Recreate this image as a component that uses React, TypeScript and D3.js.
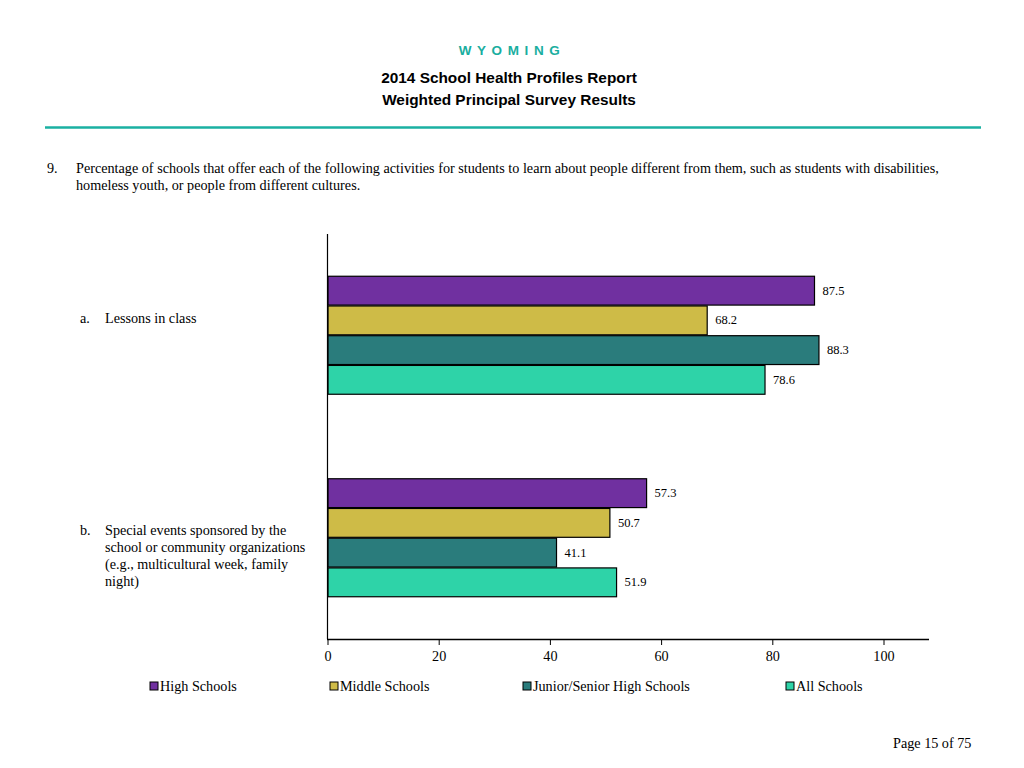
import React from "react";
import * as d3 from "d3";

const categories = ["a", "b"];
const seriesNames = ["High Schools", "Middle Schools", "Junior/Senior High Schools", "All Schools"];
const seriesColors = ["#7030A0", "#CEBB47", "#2A7C7C", "#2ED3A8"];
const valuesA = [87.5, 68.2, 88.3, 78.6];
const valuesB = [57.3, 50.7, 41.1, 51.9];
const seriesValues = [valuesA, valuesB];
const categoryLabels = [["Lessons in class"], ["Special events sponsored by the", "school or community organizations", "(e.g., multicultural week, family", "night)"]];
const xTicks = [0, 20, 40, 60, 80, 100];

export default function App() {
  const W = 1024, H = 768;
  const x = d3.scaleLinear().domain([0, 100]).range([328, 884]);
  const y0 = d3.scaleBand().domain(categories).range([234, 639]);
  const y1 = d3.scaleBand().domain(seriesNames).range([0, 118]).paddingInner(0.03);
  const serif = "'Liberation Serif', 'Times New Roman', serif";
  const sans = "'Liberation Sans', Arial, sans-serif";
  const fs = 14.2;
  const legendX = [150, 330, 523, 786];
  return (
    <svg width={W} height={H} style={{ position: "absolute", left: 0, top: 0, background: "#fff" }}>
      <text x={512} y={55} textAnchor="middle" fontFamily={sans} fontWeight="bold" fontSize={13.5} fill="#1AAE9F" letterSpacing={5.6}>WYOMING</text>
      <text x={509} y={83} textAnchor="middle" fontFamily={sans} fontWeight="bold" fontSize={15.4} fill="#000">2014 School Health Profiles Report</text>
      <text x={509} y={105} textAnchor="middle" fontFamily={sans} fontWeight="bold" fontSize={15.4} fill="#000">Weighted Principal Survey Results</text>
      <line x1={45} x2={981} y1={127.5} y2={127.5} stroke="#1AB0A2" strokeWidth={2.5} />
      <text x={47} y={173} fontFamily={serif} fontSize={fs} fill="#000">9.</text>
      <text x={76} y={173} fontFamily={serif} fontSize={fs} fill="#000">Percentage of schools that offer each of the following activities for students to learn about people different from them, such as students with disabilities,</text>
      <text x={76} y={190} fontFamily={serif} fontSize={fs} fill="#000">homeless youth, or people from different cultures.</text>

      {categories.map((c, ci) => {
        const band = y0(c)!;
        const off = band + (y0.bandwidth() - 118) / 2;
        const lines = categoryLabels[ci];
        const ly = ci === 0 ? 323 : 535;
        return (
          <g key={c}>
            <text x={80} y={ly} fontFamily={serif} fontSize={fs} fill="#000">{c + "."}</text>
            {lines.map((l, li) => (
              <text key={li} x={105} y={ly + li * 17} fontFamily={serif} fontSize={fs} fill="#000">{l}</text>
            ))}
            {seriesNames.map((s, si) => {
              const v = seriesValues[ci][si];
              const by = off + y1(s)!;
              return (
                <g key={s}>
                  <rect x={x(0)} y={by} width={x(v) - x(0)} height={y1.bandwidth()} fill={seriesColors[si]} stroke="#000" strokeWidth={1.2} />
                  <text x={x(v) + 8} y={by + y1.bandwidth() / 2 + 4} fontFamily={serif} fontSize={12.5} fill="#000">{v.toFixed(1)}</text>
                </g>
              );
            })}
          </g>
        );
      })}

      <line x1={327.5} x2={327.5} y1={234} y2={639} stroke="#000" strokeWidth={1.2} />
      <line x1={327} x2={929} y1={639.5} y2={639.5} stroke="#000" strokeWidth={1.5} />
      {xTicks.map((t) => (
        <g key={t}>
          <line x1={x(t)} x2={x(t)} y1={639} y2={645} stroke="#000" strokeWidth={1} />
          <text x={x(t)} y={661} textAnchor="middle" fontFamily={serif} fontSize={fs} fill="#000">{t}</text>
        </g>
      ))}

      {seriesNames.map((s, si) => (
        <g key={s}>
          <rect x={legendX[si]} y={682} width={8} height={8} fill={seriesColors[si]} stroke="#000" strokeWidth={1} />
          <text x={legendX[si] + 10} y={691} fontFamily={serif} fontSize={fs} fill="#000">{s}</text>
        </g>
      ))}

      <text x={893} y={748} fontFamily={serif} fontSize={fs} fill="#000">Page 15 of 75</text>
    </svg>
  );
}
